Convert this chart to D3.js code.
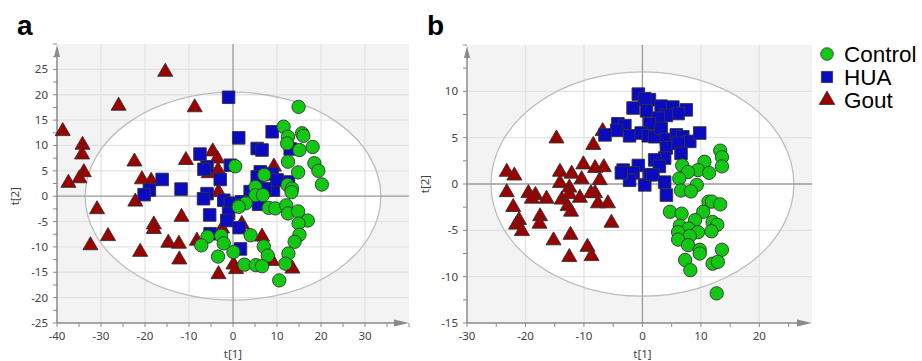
<!DOCTYPE html>
<html><head><meta charset="utf-8">
<script src="https://cdn.jsdelivr.net/npm/d3@7/dist/d3.min.js"></script>
<style>body{margin:0;background:#fff}svg{display:block}</style>
</head><body>
<svg id="chart" width="922" height="361"></svg>
<script>
// ---------- DATA ----------
const groups = ["Control", "HUA", "Gout"];

// Panel a (t[1], t[2])
const aControl = [[14.9,17.6],[11.5,13.7],[12.5,11.7],[12.3,10.4],[15.7,12.4],[16.0,11.9],[15.1,9.1],[18.1,9.7],[12.5,6.8],[14.8,4.7],[18.5,6.5],[19.4,5.0],[20.2,2.3],[7.1,4.2],[0.5,5.9],[5.1,1.8],[5.1,0.2],[6.8,0.2],[12.4,2.2],[13.4,1.5],[13.3,0.8],[1.3,-1.9],[2.9,-1.4],[8.1,-2.3],[9.6,-2.4],[12.1,-1.8],[12.5,-3.4],[14.8,-3.0],[17.0,-4.8],[14.9,-5.4],[15.1,-7.6],[14.0,-9.0],[12.6,-11.3],[11.9,-13.3],[10.5,-16.6],[4.0,-7.7],[7.0,-9.9],[7.9,-11.7],[2.6,-13.5],[5.2,-13.6],[6.6,-13.8],[-5.8,-8.0],[-7.2,-9.7],[-2.7,-7.8],[-2.1,-9.3],[-3.4,-11.9],[0.1,-11.0],[1.3,-2.1]];
const aHUA = [[-1.0,19.5],[1.3,11.5],[8.9,12.7],[5.5,9.4],[6.6,9.1],[13.0,9.3],[-7.5,8.3],[-5.9,5.8],[-6.6,5.3],[-2.9,3.3],[-0.6,6.1],[6.2,4.8],[8.9,4.4],[12.6,2.8],[-16.1,3.3],[-19.0,1.2],[-20.2,0.3],[-11.8,1.4],[-5.9,0.5],[-6.7,-0.5],[-5.3,-3.7],[-2.1,-0.8],[-0.6,-1.4],[-1.0,-3.4],[-1.4,-4.8],[1.4,-6.2],[1.7,-10.4],[3.9,0.9],[5.8,-1.6],[5.5,3.8],[9.2,1.2],[10.0,3.2],[7.3,1.5],[2.0,-1.1],[-5.2,-7.4]];
const aGout = [[-15.4,24.5],[-26.0,17.8],[-38.7,12.8],[-34.2,10.1],[-34.3,8.2],[-33.9,4.7],[-34.9,3.5],[-37.4,2.6],[-22.4,6.8],[-20.7,3.3],[-18.6,3.0],[-22.2,-1.1],[-30.9,-2.6],[-18.0,-5.6],[-18.0,-6.5],[-28.4,-7.9],[-32.4,-9.7],[-14.7,-9.2],[-21.1,-11.0],[-11.7,-4.1],[-12.3,-9.4],[-12.2,-12.5],[-8.2,-8.8],[-3.3,-15.4],[0.1,-13.5],[0.7,-14.4],[6.6,-8.0],[8.9,-12.8],[13.5,-14.3],[2.0,-5.5],[-2.5,-6.4],[-8.7,17.5],[-10.7,7.1],[-4.6,8.8],[-3.6,7.4],[-3.4,5.1],[-5.5,4.5],[-3.3,0.8],[9.3,5.8]];

// Panel b (t[1], t[2])
const bControl = [[13.3,3.6],[13.6,2.9],[13.6,1.9],[10.6,2.4],[9.5,1.5],[11.4,1.2],[6.8,2.0],[7.8,1.3],[6.3,0.6],[9.3,-0.1],[6.6,-0.7],[8.3,-0.8],[4.7,-3.0],[6.7,-3.2],[11.3,-1.9],[11.9,-1.9],[13.3,-2.2],[10.4,-3.0],[9.0,-3.9],[6.4,-4.5],[7.9,-4.8],[6.1,-5.2],[9.5,-5.2],[12.0,-4.1],[12.8,-4.4],[11.8,-5.1],[8.1,-5.6],[6.1,-6.0],[7.8,-6.6],[9.8,-7.1],[9.8,-7.5],[13.6,-7.1],[7.3,-8.2],[8.2,-9.3],[12.0,-8.6],[12.9,-8.4],[12.7,-11.8]];
const bHUA = [[-0.7,9.7],[1.2,9.1],[0.4,9.2],[-1.6,8.2],[0.7,7.9],[3.2,8.4],[5.2,8.3],[7.5,8.0],[6.1,7.6],[4.1,7.4],[2.7,7.1],[1.2,6.5],[-4.2,6.5],[-3.0,6.3],[-4.4,5.8],[-6.4,5.3],[-2.2,5.2],[-0.2,5.5],[1.0,5.2],[2.1,5.1],[3.2,6.0],[4.1,4.8],[5.8,5.3],[6.9,5.1],[8.1,4.6],[9.8,5.5],[4.1,3.9],[6.1,4.4],[6.6,3.3],[3.8,2.8],[2.1,2.6],[2.9,1.9],[-0.7,2.0],[-3.3,1.5],[-1.6,1.2],[1.2,1.0],[-2.2,0.4],[0.4,-0.1],[1.8,1.0],[3.8,0.2],[4.1,-1.2],[-3.6,1.2]];
const bGout = [[-14.7,4.9],[-8.4,4.2],[-6.8,5.7],[-10.1,2.1],[-8.1,1.7],[-6.6,1.8],[-14.1,1.3],[-12.1,1.1],[-23.2,1.3],[-21.9,0.9],[-10.4,0.5],[-23.2,-0.9],[-22.1,-2.5],[-21.1,-3.9],[-21.6,-4.4],[-20.6,-5.1],[-19.5,-1.0],[-18.3,-1.2],[-18.9,-1.6],[-16.4,-1.6],[-17.5,-3.5],[-17.6,-4.3],[-15.2,-6.1],[-14.1,0.1],[-12.5,-0.4],[-13.8,-1.7],[-12.5,-1.1],[-12.8,-2.4],[-12.2,-3.0],[-10.7,-1.5],[-12.3,-5.5],[-12.5,-7.9],[-9.4,-6.8],[-8.7,-7.8],[-7.3,0.4],[-8.1,-1.0],[-8.8,-1.0],[-7.6,-2.1],[-5.9,-2.1],[-5.3,-4.2]];

// Axis ticks
const aXTicks = [-40,-30,-20,-10,0,10,20,30];
const aYTicks = [-25,-20,-15,-10,-5,0,5,10,15,20,25];
const bXTicks = [-30,-20,-10,0,10,20];
const bYTicks = [-15,-10,-5,0,5,10];
// Hotelling T2 ellipse semi-axes (t[1], t[2])
const aEllipse = [33.6, 20.5];
const bEllipse = [25.9, 12.1];

// ---------- STYLE ----------
const colors = {Control:"#12c812", HUA:"#0a0ac0", Gout:"#9a0000"};
const svg = d3.select("#chart");
const tickFont = "'Segoe UI','Noto Sans','DejaVu Sans',sans-serif";

function panel(o){
  const x = d3.scaleLinear().domain(o.xDom).range([o.left, o.right]);
  const y = d3.scaleLinear().domain(o.yDom).range([o.bottom, o.top]);
  const g = svg.append("g");
  g.append("rect").attr("x",o.left).attr("y",o.top).attr("width",o.right-o.left).attr("height",o.bottom-o.top).attr("fill","#f3f3f3");
  g.append("ellipse").attr("cx",x(0)).attr("cy",y(0))
    .attr("rx",x(o.ell[0])-x(0)).attr("ry",y(0)-y(o.ell[1]))
    .attr("fill","#fff").attr("stroke","none");
  const gc = "#e3e3e3";
  g.selectAll(".gx").data(o.xTicks.filter(t=>t!==0 && t!==o.xDom[0])).enter().append("line")
    .attr("x1",d=>x(d)).attr("x2",d=>x(d)).attr("y1",o.top).attr("y2",o.bottom).attr("stroke",gc).attr("stroke-width",1.3);
  g.selectAll(".gy").data(o.yTicks.filter(t=>t!==0 && t!==o.yDom[0])).enter().append("line")
    .attr("y1",d=>y(d)).attr("y2",d=>y(d)).attr("x1",o.left).attr("x2",o.right).attr("stroke",gc).attr("stroke-width",1.3);
  g.append("ellipse").attr("cx",x(0)).attr("cy",y(0))
    .attr("rx",x(o.ell[0])-x(0)).attr("ry",y(0)-y(o.ell[1]))
    .attr("fill","none").attr("stroke","#bdbdbd").attr("stroke-width",1.3);
  g.append("line").attr("x1",x(0)).attr("x2",x(0)).attr("y1",o.top).attr("y2",o.bottom).attr("stroke","#9a9a9a").attr("stroke-width",1.3);
  g.append("line").attr("x1",o.left).attr("x2",o.right).attr("y1",y(0)).attr("y2",y(0)).attr("stroke","#9a9a9a").attr("stroke-width",1.3);

  const ac = "#8a8a8a";
  const xMinor = d3.range(o.xDom[0], o.xDom[1]+0.001, 5);
  const yMinor = d3.range(o.yDom[0], o.yDom[1]+0.001, o.yMinorStep);
  g.selectAll(".xt").data(xMinor).enter().append("line")
    .attr("x1",d=>x(d)).attr("x2",d=>x(d)).attr("y1",o.bottom).attr("y2",o.bottom+4).attr("stroke",ac);
  g.selectAll(".yt").data(yMinor).enter().append("line")
    .attr("y1",d=>y(d)).attr("y2",d=>y(d)).attr("x1",o.left-4).attr("x2",o.left).attr("stroke",ac);
  g.append("line").attr("x1",o.left).attr("x2",o.right-8).attr("y1",o.bottom).attr("y2",o.bottom).attr("stroke",ac).attr("stroke-width",1.5);
  g.append("line").attr("x1",o.left).attr("x2",o.left).attr("y1",o.bottom).attr("y2",o.top+8).attr("stroke",ac).attr("stroke-width",1.5);
  g.append("path").attr("d",`M${o.right},${o.bottom} L${o.right-15},${o.bottom-3.5} L${o.right-15},${o.bottom+3.5}Z`).attr("fill",ac);
  g.append("path").attr("d",`M${o.left},${o.top+1} L${o.left-3},${o.top+13} L${o.left+3},${o.top+13}Z`).attr("fill",ac);

  g.selectAll(".xl").data(o.xTicks).enter().append("text")
    .attr("x",d=>x(d)).attr("y",o.bottom+17).attr("text-anchor","middle")
    .attr("font-family",tickFont).attr("font-size",11.5).attr("fill","#444").text(d=>d);
  g.selectAll(".yl").data(o.yTicks).enter().append("text")
    .attr("x",o.left-9).attr("y",d=>y(d)+4).attr("text-anchor","end")
    .attr("font-family",tickFont).attr("font-size",11.5).attr("fill","#444").text(d=>d);
  g.append("text").attr("x",x(0)).attr("y",358).attr("text-anchor","middle")
    .attr("font-family",tickFont).attr("font-size",11.5).attr("fill","#444").text("t[1]");
  g.append("text").attr("transform",`translate(${o.left-38},${y(0)}) rotate(-90)`).attr("text-anchor","middle")
    .attr("font-family",tickFont).attr("font-size",11.5).attr("fill","#444").text("t[2]");
  svg.append("text").attr("x",o.letterX).attr("y",35).attr("font-family","Arial, 'Liberation Sans', sans-serif")
    .attr("font-weight","bold").attr("font-size",28).attr("fill","#000").text(o.letter);

  const sym = {Control:d3.symbolCircle, HUA:d3.symbolSquare, Gout:d3.symbolTriangle};
  const size = {Control:140, HUA:158, Gout:98};
  const data = {Gout:o.gout, HUA:o.hua, Control:o.control};
  ["Gout","HUA","Control"].forEach(k=>{
    g.selectAll(".p"+k).data(data[k]).enter().append("path")
      .attr("d", d3.symbol().type(sym[k]).size(size[k]))
      .attr("transform", d=>`translate(${x(d[0])},${y(d[1])})`)
      .attr("fill", colors[k]).attr("stroke","#333").attr("stroke-width",0.9);
  });
}

panel({left:57,right:409,top:44,bottom:323,xDom:[-40,40],yDom:[-25,30],xTicks:aXTicks,yTicks:aYTicks,yMinorStep:2.5,
  ell:aEllipse, control:aControl, hua:aHUA, gout:aGout, letter:"a", letterX:17});
panel({left:467,right:812,top:45,bottom:323,xDom:[-30,29],yDom:[-15,15],xTicks:bXTicks,yTicks:bYTicks,yMinorStep:2.5,
  ell:bEllipse, control:bControl, hua:bHUA, gout:bGout, letter:"b", letterX:427});

// legend
const lg = svg.append("g");
const legSym = {Control:d3.symbolCircle, HUA:d3.symbolSquare, Gout:d3.symbolTriangle};
const legSize = {Control:125, HUA:125, Gout:105};
groups.forEach((k,i)=>{
  const cy = 54 + i*23;
  lg.append("path").attr("d",d3.symbol().type(legSym[k]).size(legSize[k]))
    .attr("transform",`translate(827,${cy})`).attr("fill",colors[k]).attr("stroke","#333").attr("stroke-width",0.8);
  lg.append("text").attr("x",844).attr("y",cy+8).attr("font-family","Arial, 'Liberation Sans', sans-serif")
    .attr("font-size",22.5).attr("fill","#000").text(k);
});
</script>
</body></html>
